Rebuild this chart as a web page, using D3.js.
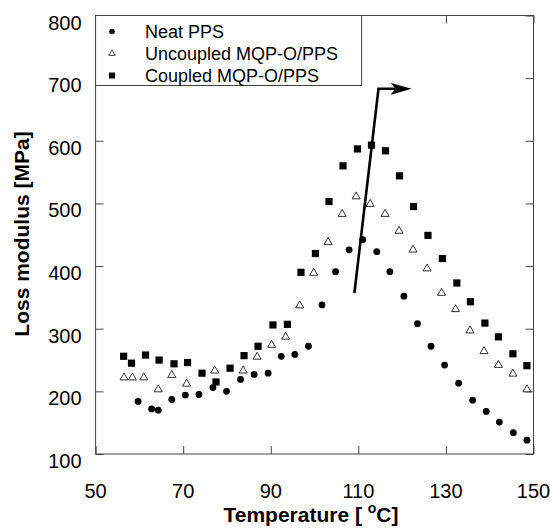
<!DOCTYPE html>
<html>
<head>
<meta charset="utf-8">
<script src="https://cdn.jsdelivr.net/npm/d3@7"></script>
<style>
  body { margin: 0; background: #fff; }
  svg { display: block; font-family: "Liberation Sans", Arial, sans-serif; }
</style>
</head>
<body>
<div id="chart"></div>
<script>
// Loss modulus vs temperature, three PPS samples
const neatTemp = [59.7, 62.8, 64.3, 67.4, 70.5, 73.6, 76.8, 79.9, 83.1, 86.2, 89.4, 92.4, 95.5, 98.6, 101.7,
  104.8, 107.9, 111.0, 114.2, 117.2, 120.4, 123.5, 126.6, 129.7, 132.9, 136.1, 139.2, 142.2, 145.4, 148.5];
const neatLoss = [184, 172, 170, 187, 194, 195, 206, 200, 219, 227, 229, 256, 259, 272, 338,
  391, 426, 442, 423, 391, 352, 308, 272, 242, 213, 186, 168, 151, 134, 122];

const uncoupledTemp = [56.5, 58.4, 61.0, 64.3, 67.4, 70.8, 77.2, 83.7, 86.9, 90.2, 93.4, 96.6, 99.8, 103.1,
  106.3, 109.5, 112.7, 116.1, 119.3, 122.5, 125.7, 129.0, 132.2, 135.5, 138.7, 142.0, 145.3, 148.5];
const uncoupledLoss = [222, 222, 222, 203, 226, 212, 233, 233, 255, 274, 287, 337, 389, 438,
  483, 511, 499, 483, 456, 426, 396, 357, 331, 297, 264, 242, 228, 203];

const coupledTemp = [56.4, 58.2, 61.4, 64.5, 67.9, 71.0, 74.3, 77.5, 80.7, 83.9, 87.1, 90.5, 93.8, 96.9, 100.2,
  103.3, 106.5, 109.8, 113.0, 116.2, 119.4, 122.6, 125.9, 129.2, 132.5, 135.6, 138.9, 142.0, 145.3, 148.5];
const coupledLoss = [256, 245, 258, 250, 244, 246, 229, 215, 237, 257, 272, 306, 307, 390, 420,
  503, 560, 587, 593, 584, 544, 495, 449, 412, 373, 343, 309, 287, 260, 241];

const seriesNames = ['Neat PPS', 'Uncoupled MQP-O/PPS', 'Coupled MQP-O/PPS'];
const xTicks = [50, 70, 90, 110, 130, 150];
const yTicks = [100, 200, 300, 400, 500, 600, 700, 800];

// arrow marking the peak shift (temperature, loss modulus)
const arrowTemp = [109.1, 114.6, 118.5];
const arrowLoss = [357, 683, 683];

const width = 550;
const height = 529;
const margin = { top: 15.5, right: 16.5, bottom: 75, left: 95.6 };

const svg = d3.select('#chart').append('svg')
  .attr('width', width)
  .attr('height', height);

const xScale = d3.scaleLinear().domain([50, 150]).range([margin.left, width - margin.right]);
const yScale = d3.scaleLinear().domain([100, 800]).range([height - margin.bottom, margin.top]);

const axisColor = '#444';
const tickLen = 8;

// ticks on all four sides, pointing inward
svg.append('g')
  .attr('transform', `translate(0, ${yScale(100)})`)
  .call(d3.axisBottom(xScale).tickValues(xTicks).tickSizeInner(-tickLen).tickSizeOuter(0).tickFormat(''))
  .call((g) => g.select('.domain').remove());
svg.append('g')
  .attr('transform', `translate(0, ${yScale(800)})`)
  .call(d3.axisTop(xScale).tickValues(xTicks).tickSizeInner(-tickLen).tickSizeOuter(0).tickFormat(''))
  .call((g) => g.select('.domain').remove());
svg.append('g')
  .attr('transform', `translate(${xScale(50)}, 0)`)
  .call(d3.axisLeft(yScale).tickValues(yTicks).tickSizeInner(-tickLen).tickSizeOuter(0).tickFormat(''))
  .call((g) => g.select('.domain').remove());
svg.append('g')
  .attr('transform', `translate(${xScale(150)}, 0)`)
  .call(d3.axisRight(yScale).tickValues(yTicks).tickSizeInner(-tickLen).tickSizeOuter(0).tickFormat(''))
  .call((g) => g.select('.domain').remove());
svg.selectAll('.tick line').attr('stroke', axisColor);

// frame
svg.append('rect')
  .attr('x', xScale(50))
  .attr('y', yScale(800))
  .attr('width', xScale(150) - xScale(50))
  .attr('height', yScale(100) - yScale(800))
  .attr('fill', 'none')
  .attr('stroke', axisColor)
  .attr('stroke-width', 1);

// tick labels
svg.append('g').selectAll('text')
  .data(xTicks).join('text')
  .attr('x', (d) => xScale(d))
  .attr('y', yScale(100) + 44)
  .attr('text-anchor', 'middle')
  .attr('font-size', 20)
  .text((d) => d);

svg.append('g').selectAll('text')
  .data(yTicks).join('text')
  .attr('x', xScale(50) - 14)
  .attr('y', (d) => yScale(d) + 14)
  .attr('text-anchor', 'end')
  .attr('font-size', 20)
  .text((d) => d);

// axis titles
const xTitle = svg.append('text')
  .attr('x', 311)
  .attr('y', 522)
  .attr('text-anchor', 'middle')
  .attr('font-size', 21)
  .attr('font-weight', 'bold');
xTitle.append('tspan').text('Temperature [ ');
xTitle.append('tspan').attr('font-size', 14).attr('dy', -9).text('o');
xTitle.append('tspan').attr('dy', 9).text('C]');

svg.append('text')
  .attr('transform', 'translate(29, 234) rotate(-90)')
  .attr('text-anchor', 'middle')
  .attr('font-size', 21)
  .attr('font-weight', 'bold')
  .text('Loss modulus [MPa]');

// markers
const tri = d3.symbol().type(d3.symbolTriangle);

const pts = svg.append('g').attr('class', 'points');

pts.selectAll('.tri')
  .data(d3.zip(uncoupledTemp, uncoupledLoss)).join('path')
  .attr('class', 'tri')
  .attr('transform', (d) => `translate(${xScale(d[0])}, ${yScale(d[1])})`)
  .attr('d', tri.size(28)())
  .attr('fill', '#fff')
  .attr('stroke', '#000')
  .attr('stroke-width', 0.8);

pts.selectAll('.sq')
  .data(d3.zip(coupledTemp, coupledLoss)).join('rect')
  .attr('class', 'sq')
  .attr('x', (d) => xScale(d[0]) - 3.6)
  .attr('y', (d) => yScale(d[1]) - 3.6)
  .attr('width', 7.2)
  .attr('height', 7.2)
  .attr('fill', '#000');

pts.selectAll('.dot')
  .data(d3.zip(neatTemp, neatLoss)).join('circle')
  .attr('class', 'dot')
  .attr('cx', (d) => xScale(d[0]))
  .attr('cy', (d) => yScale(d[1]))
  .attr('r', 3.4)
  .attr('fill', '#000');

// arrow
svg.append('defs').append('marker')
  .attr('id', 'head')
  .attr('viewBox', '0 0 21 15')
  .attr('refX', 5)
  .attr('refY', 7.5)
  .attr('markerWidth', 21)
  .attr('markerHeight', 15)
  .attr('markerUnits', 'userSpaceOnUse')
  .attr('orient', 'auto')
  .append('path')
  .attr('d', 'M0,1.5 L21,7.5 L0,13.5 L5,7.5 Z')
  .attr('fill', '#000');

svg.append('path')
  .datum(d3.zip(arrowTemp, arrowLoss))
  .attr('d', d3.line().x((d) => xScale(d[0])).y((d) => yScale(d[1])))
  .attr('fill', 'none')
  .attr('stroke', '#000')
  .attr('stroke-width', 2.6)
  .attr('marker-end', 'url(#head)');

// legend
const legend = svg.append('g');
legend.append('rect')
  .attr('x', xScale(50))
  .attr('y', yScale(800))
  .attr('width', 266)
  .attr('height', 70)
  .attr('fill', '#fff')
  .attr('stroke', axisColor);

const rowY = [31.5, 53.5, 75.5];
const legendX = 112;

legend.append('circle').attr('cx', legendX).attr('cy', rowY[0]).attr('r', 2.8).attr('fill', '#000');
legend.append('path')
  .attr('transform', `translate(${legendX}, ${rowY[1]})`)
  .attr('d', tri.size(18)())
  .attr('fill', '#fff').attr('stroke', '#000').attr('stroke-width', 0.7);
legend.append('rect').attr('x', legendX - 3).attr('y', rowY[2] - 3).attr('width', 6).attr('height', 6).attr('fill', '#000');

legend.selectAll('text')
  .data(seriesNames).join('text')
  .attr('x', 145)
  .attr('y', (d, i) => rowY[i] + 6.5)
  .attr('font-size', 18)
  .text((d) => d);
</script>
</body>
</html>
